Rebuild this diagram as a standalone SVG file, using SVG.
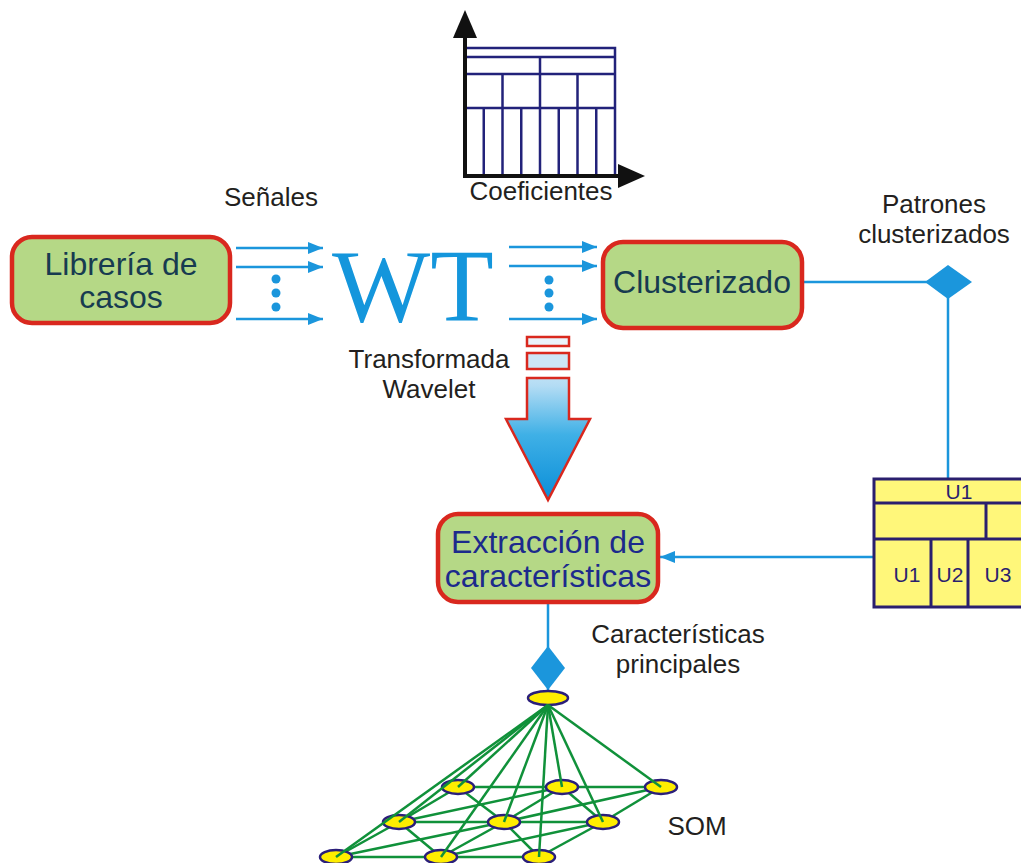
<svg xmlns="http://www.w3.org/2000/svg" width="1021" height="863" viewBox="0 0 1021 863">
<defs>
<style>
.lbl{font-family:"Liberation Sans",Arial,sans-serif;font-size:26px;fill:#231f20;text-anchor:middle}
.node rect{fill:#b5d886;stroke:#d9281e;stroke-width:4.5}
.ntx{font-family:"Liberation Sans",Arial,sans-serif;font-size:32px;text-anchor:middle}
.con{stroke:#1b96dc;stroke-width:2.5;fill:none}
.dot{fill:#1b96dc}
.grid{stroke:#22227a;stroke-width:2.5;fill:none}
.tbl{fill:#fff77a;stroke:#2a1f6e;stroke-width:3}
.utx{font-family:"Liberation Sans",Arial,sans-serif;font-size:21px;fill:#2a1f6e;text-anchor:middle}
.som{fill:#ffee00;stroke:#2b1f7a;stroke-width:2.5}
.edge{stroke:#10913a;stroke-width:2.5}
</style>
<marker id="ah" markerUnits="userSpaceOnUse" markerWidth="16" markerHeight="14" refX="15" refY="6" orient="auto">
<path d="M0,0 L15,6 L0,12 z" fill="#1b96dc"/>
</marker>
<linearGradient id="bg" x1="0" y1="337" x2="0" y2="500" gradientUnits="userSpaceOnUse">
<stop offset="0" stop-color="#eef6fc"/>
<stop offset="0.3" stop-color="#b3dcf4"/>
<stop offset="0.6" stop-color="#3fb0e6"/>
<stop offset="1" stop-color="#0a8ed8"/>
</linearGradient>
</defs>
<rect width="1021" height="863" fill="#ffffff"/>

<g id="chart">
<g class="grid">
<rect x="465" y="48" width="150" height="128"/>
<line x1="465" y1="57" x2="615" y2="57"/>
<line x1="465" y1="74" x2="615" y2="74"/>
<line x1="465" y1="108" x2="615" y2="108"/>
<line x1="540" y1="57" x2="540" y2="176"/>
<line x1="502.5" y1="74" x2="502.5" y2="176"/>
<line x1="577.5" y1="74" x2="577.5" y2="176"/>
<line x1="483.75" y1="108" x2="483.75" y2="176"/>
<line x1="521.25" y1="108" x2="521.25" y2="176"/>
<line x1="558.75" y1="108" x2="558.75" y2="176"/>
<line x1="596.25" y1="108" x2="596.25" y2="176"/>
</g>
<path d="M465,34 L465,176 L622,176" stroke="#111" stroke-width="4" fill="none"/>
<path d="M465,10 L477,38 L453,38 z" fill="#111"/>
<path d="M645,176 L618,164 L618,188 z" fill="#111"/>
<text class="lbl" x="541" y="200">Coeficientes</text>
</g>

<g id="labels">
<text class="lbl" x="271" y="206">Señales</text>
<text class="lbl" x="429" y="368">Transformada</text>
<text class="lbl" x="429" y="398">Wavelet</text>
<text class="lbl" x="934" y="213">Patrones</text>
<text class="lbl" x="934" y="243">clusterizados</text>
<text class="lbl" x="678" y="643">Características</text>
<text class="lbl" x="678" y="673">principales</text>
<text class="lbl" x="697" y="835">SOM</text>
</g>

<g id="connectors">
<line class="con" x1="236" y1="248" x2="323" y2="248" marker-end="url(#ah)"/>
<line class="con" x1="236" y1="267" x2="323" y2="267" marker-end="url(#ah)"/>
<line class="con" x1="236" y1="319" x2="323" y2="319" marker-end="url(#ah)"/>
<circle class="dot" cx="276" cy="279" r="4.5"/>
<circle class="dot" cx="276" cy="293" r="4.5"/>
<circle class="dot" cx="276" cy="307" r="4.5"/>
<line class="con" x1="509" y1="247" x2="597" y2="247" marker-end="url(#ah)"/>
<line class="con" x1="509" y1="266" x2="597" y2="266" marker-end="url(#ah)"/>
<line class="con" x1="509" y1="319" x2="597" y2="319" marker-end="url(#ah)"/>
<circle class="dot" cx="549" cy="280" r="4.5"/>
<circle class="dot" cx="549" cy="293" r="4.5"/>
<circle class="dot" cx="549" cy="307" r="4.5"/>
<line class="con" x1="802" y1="282" x2="930" y2="282"/>
<path d="M925,282 L948,265 L972,282 L948,299 z" fill="#1b96dc"/>
<line class="con" x1="948" y1="298" x2="948" y2="479"/>
<line class="con" x1="874" y1="557" x2="660" y2="557" marker-end="url(#ah)"/>
<line class="con" x1="548" y1="602" x2="548" y2="650"/>
<path d="M548,646 L565,668 L548,690 L531,668 z" fill="#1b96dc"/>
<line class="con" x1="548" y1="688" x2="548" y2="697"/>
</g>

<g id="wt">
<text x="332" y="321" font-family="'Liberation Serif','Times New Roman',serif" font-size="104" fill="#1496dc">WT</text>
</g>

<g id="bigarrow">
<rect x="527" y="337" width="42" height="9" fill="#eaf4fc" stroke="#d9281e" stroke-width="2.5"/>
<rect x="527" y="353" width="42" height="16" fill="#cde6f7" stroke="#d9281e" stroke-width="2.5"/>
<path d="M527,378 L569,378 L569,419 L590,419 L548,500 L506,419 L527,419 z" fill="url(#bg)" stroke="#d9281e" stroke-width="2.5"/>
</g>

<g id="libreria" class="node">
<rect x="12" y="237" width="218" height="86" rx="20"/>
<text class="ntx" x="121" y="275" fill="#173b50">Librería de</text>
<text class="ntx" x="121" y="308" fill="#173b50">casos</text>
</g>

<g id="clusterizado" class="node">
<rect x="603" y="242" width="199" height="86" rx="20"/>
<text class="ntx" x="702" y="293" fill="#173b50" font-size="31">Clusterizado</text>
</g>

<g id="extraccion" class="node">
<rect x="438" y="514" width="220" height="88" rx="20"/>
<text class="ntx" x="548" y="553" fill="#1c2a8c">Extracción de</text>
<text class="ntx" x="548" y="587" fill="#1c2a8c">características</text>
</g>

<g id="tabla">
<rect class="tbl" x="874" y="479" width="160" height="128"/>
<line class="tbl" x1="874" y1="503" x2="1034" y2="503"/>
<line class="tbl" x1="874" y1="539" x2="1034" y2="539"/>
<line class="tbl" x1="986" y1="503" x2="986" y2="539"/>
<line class="tbl" x1="931" y1="539" x2="931" y2="607"/>
<line class="tbl" x1="968" y1="539" x2="968" y2="607"/>
<text class="utx" x="959" y="499">U1</text>
<text class="utx" x="907" y="582">U1</text>
<text class="utx" x="950" y="582">U2</text>
<text class="utx" x="998" y="582">U3</text>
</g>

<g id="som">
<g class="edge">
<line x1="458" y1="787" x2="661" y2="787"/>
<line x1="399" y1="822" x2="603" y2="822"/>
<line x1="336" y1="857" x2="539" y2="857"/>
<line x1="458" y1="787" x2="399" y2="822"/>
<line x1="562" y1="787" x2="504" y2="822"/>
<line x1="661" y1="787" x2="603" y2="822"/>
<line x1="399" y1="822" x2="336" y2="857"/>
<line x1="504" y1="822" x2="441" y2="857"/>
<line x1="603" y1="822" x2="539" y2="857"/>
<line x1="458" y1="787" x2="504" y2="822"/>
<line x1="562" y1="787" x2="399" y2="822"/>
<line x1="562" y1="787" x2="603" y2="822"/>
<line x1="661" y1="787" x2="504" y2="822"/>
<line x1="399" y1="822" x2="441" y2="857"/>
<line x1="504" y1="822" x2="336" y2="857"/>
<line x1="504" y1="822" x2="539" y2="857"/>
<line x1="603" y1="822" x2="441" y2="857"/>
</g>
<ellipse class="som" cx="458" cy="787" rx="16" ry="7"/>
<ellipse class="som" cx="562" cy="787" rx="16" ry="7"/>
<ellipse class="som" cx="661" cy="787" rx="16" ry="7"/>
<ellipse class="som" cx="399" cy="822" rx="16" ry="7"/>
<ellipse class="som" cx="504" cy="822" rx="16" ry="7"/>
<ellipse class="som" cx="603" cy="822" rx="16" ry="7"/>
<ellipse class="som" cx="336" cy="857" rx="16" ry="7"/>
<ellipse class="som" cx="441" cy="857" rx="16" ry="7"/>
<ellipse class="som" cx="539" cy="857" rx="16" ry="7"/>
<ellipse class="som" cx="548" cy="698" rx="20" ry="7"/>
<g class="edge">
<line x1="548" y1="705" x2="458" y2="787"/>
<line x1="548" y1="705" x2="562" y2="787"/>
<line x1="548" y1="705" x2="661" y2="787"/>
<line x1="548" y1="705" x2="399" y2="822"/>
<line x1="548" y1="705" x2="504" y2="822"/>
<line x1="548" y1="705" x2="603" y2="822"/>
<line x1="548" y1="705" x2="336" y2="857"/>
<line x1="548" y1="705" x2="441" y2="857"/>
<line x1="548" y1="705" x2="539" y2="857"/>
</g>
</g>
</svg>
